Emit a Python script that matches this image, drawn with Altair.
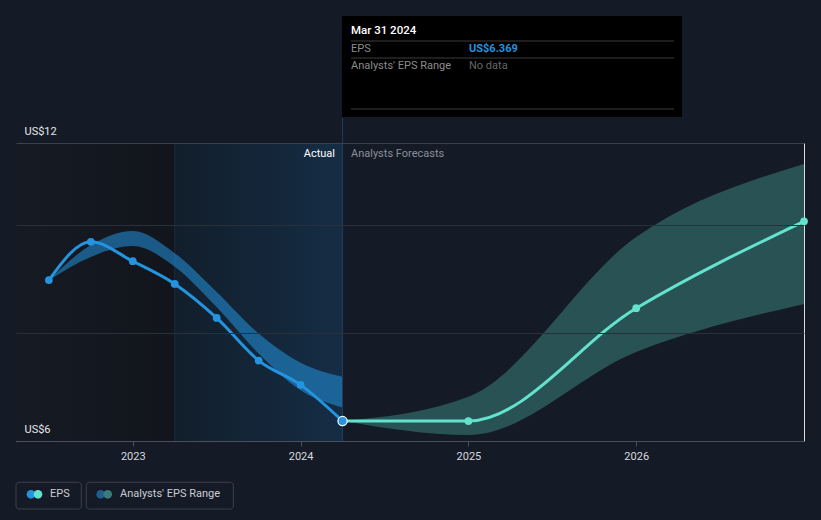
import altair as alt
import pandas as pd

# ---- data ----
eps_x = [2022.5, 2022.75, 2023.0, 2023.25, 2023.5, 2023.75, 2024.0, 2024.25]
eps_y = [8.98, 9.69, 9.33, 8.91, 8.28, 7.49, 7.04, 6.369]
past_low = [8.98, 9.41, 9.61, 9.23, 8.48, 7.62, 6.94, 6.62]
past_high = [8.98, 9.63, 9.89, 9.48, 8.76, 7.99, 7.45, 7.19]

fc_x = [2024.25, 2025.0, 2026.0, 2027.0]
fc_y = [6.369, 6.37, 8.46, 10.07]
fc_low = [6.369, 6.11, 7.65, 8.54]
fc_high = [6.369, 6.82, 9.78, 11.13]

x_domain = [2022.304, 2027.0]
y_domain = [6, 11.52]
y_ticks = [6, 8, 10, 11.52]
x_ticks = [2023, 2024, 2025, 2026]
dark_region = [2022.304, 2023.25]
past_region = [2023.25, 2024.25]
now_x = 2024.25

BG = "#151b26"
BLUE = "#2394df"
TEAL = "#64e2cc"
FONT = "Roboto"
W, H = 788, 298

eps_df = pd.DataFrame({"x": eps_x, "y": eps_y, "lo": past_low, "hi": past_high})
fc_df = pd.DataFrame({"x": fc_x, "y": fc_y, "lo": fc_low, "hi": fc_high})
one = pd.DataFrame({"d": [0]})

xs = alt.Scale(domain=x_domain, nice=False, zero=False)
ys = alt.Scale(domain=y_domain, nice=False, zero=False)

X = alt.X("x:Q", scale=xs, axis=alt.Axis(
    values=x_ticks, format="d", title=None, grid=False, zindex=1,
    labelColor="#d6d9de", labelFontSize=11, labelFont=FONT, labelPadding=4,
    tickColor="#4a505b", tickSize=5, domainColor="#4a505b"))
Y = alt.Y("y:Q", scale=ys, axis=alt.Axis(
    values=y_ticks, title=None, domain=False, ticks=False, zindex=1,
    grid=True,
    gridColor={"condition": {"test": "datum.value > 11", "value": "#3a414d"}, "value": "#283039"},
    labelExpr="datum.value == 6 ? 'US$6' : (datum.value > 11 ? 'US$12' : '')",
    labelAlign="left", labelPadding=-8, labelBaseline="middle", labelOffset=-12,
    labelColor="#e6e8eb", labelFontSize=11, labelFont=FONT))

# background regions
reg_df = pd.DataFrame({"x": [dark_region[0], past_region[0]], "x2": [dark_region[1], past_region[1]], "k": ["dark", "past"]})
dark = alt.Chart(reg_df[reg_df.k == "dark"]).mark_rect(
    color=alt.LinearGradient(gradient="linear", x1=0, x2=1, y1=0, y2=0,
                             stops=[alt.GradientStop(color="#161a23", offset=0),
                                    alt.GradientStop(color="#12151c", offset=1)])
).encode(x=alt.X("x:Q", scale=xs), x2="x2:Q", y=alt.value(0), y2=alt.value(H))
past = alt.Chart(reg_df[reg_df.k == "past"]).mark_rect(
    color=alt.LinearGradient(gradient="linear", x1=0, x2=1, y1=0, y2=0,
                             stops=[alt.GradientStop(color="#121e2b", offset=0),
                                    alt.GradientStop(color="#152d45", offset=1)])
).encode(x=alt.X("x:Q", scale=xs), x2="x2:Q", y=alt.value(0), y2=alt.value(H))
past_edge = alt.Chart(reg_df[reg_df.k == "past"]).mark_rule(color="#1a2c40", strokeWidth=1).encode(
    x=alt.X("x:Q", scale=xs), y=alt.value(0), y2=alt.value(H))

axes = alt.Chart(eps_df).mark_point(opacity=0).encode(x=X, y=Y)

past_band = alt.Chart(eps_df).mark_area(interpolate="monotone", color=BLUE, opacity=0.55).encode(
    x=alt.X("x:Q", scale=xs), y=alt.Y("lo:Q", scale=ys), y2="hi:Q")
fc_band = alt.Chart(fc_df).mark_area(interpolate="monotone", color="#58d3c0", opacity=0.3).encode(
    x=alt.X("x:Q", scale=xs), y=alt.Y("lo:Q", scale=ys), y2="hi:Q")

now_rule = alt.Chart(one).mark_rule(color="#1f3d5a", strokeWidth=1).encode(
    x=alt.datum(now_x, scale=xs), y=alt.value(-25), y2=alt.value(H))

eps_line = alt.Chart(eps_df).mark_line(interpolate="monotone", color=BLUE, strokeWidth=3).encode(
    x=alt.X("x:Q", scale=xs), y=alt.Y("y:Q", scale=ys))
eps_pts = alt.Chart(eps_df.iloc[:-1]).mark_circle(color=BLUE, size=60, opacity=1).encode(
    x=alt.X("x:Q", scale=xs), y=alt.Y("y:Q", scale=ys))
fc_line = alt.Chart(fc_df).mark_line(interpolate="monotone", color=TEAL, strokeWidth=3).encode(
    x=alt.X("x:Q", scale=xs), y=alt.Y("y:Q", scale=ys))
fc_pts = alt.Chart(fc_df.iloc[1:]).mark_circle(color=TEAL, size=60, opacity=1).encode(
    x=alt.X("x:Q", scale=xs), y=alt.Y("y:Q", scale=ys))
last_pt = alt.Chart(eps_df.iloc[-1:]).mark_point(filled=True, color=BLUE, size=85, stroke="white",
                                                  strokeWidth=1.2, opacity=1).encode(
    x=alt.X("x:Q", scale=xs), y=alt.Y("y:Q", scale=ys))

def txt(s, x, y, color, size=11, align="left", weight="normal"):
    return alt.Chart(one).mark_text(text=s, align=align, baseline="middle", font=FONT,
                                    fontSize=size, color=color, fontWeight=weight).encode(
        x=alt.value(x), y=alt.value(y))

lbl_actual = txt("Actual", 319, 11, "#ffffff", align="right")
lbl_fc = txt("Analysts Forecasts", 335, 11, "#8a8f98")

# tooltip box
tip_box = alt.Chart(one).mark_rect(color="#000000").encode(
    x=alt.value(326), x2=alt.value(666), y=alt.value(-127), y2=alt.value(-26))
tip_lines = alt.Chart(pd.DataFrame({"yy": [-102, -85, -34]})).mark_rule(color="#3c3c3c").encode(
    x=alt.value(335), x2=alt.value(658), y=alt.Y("yy:Q", scale=None))
tip_t1 = txt("Mar 31 2024", 335, -112, "#ffffff", size=11.5, weight=500)
tip_t2 = txt("EPS", 335, -94, "#8c8c8c")
tip_t3 = txt("US$6.369", 453, -94, BLUE, weight="bold")
tip_t4 = txt("Analysts' EPS Range", 335, -77, "#8c8c8c")
tip_t5 = txt("No data", 453, -77, "#666666")

# legend
leg_boxes = alt.Chart(pd.DataFrame({"a": [0, 70.3], "b": [65.3, 217.3]})).mark_rect(
    fill=BG, stroke="#3b404a", strokeWidth=1, cornerRadius=3).encode(
    x=alt.X("a:Q", scale=None), x2="b:Q", y=alt.value(339.3), y2=alt.value(366))
def dot(x, color):
    return alt.Chart(one).mark_circle(color=color, size=75, opacity=1).encode(
        x=alt.value(x), y=alt.value(351.3))
leg = [dot(15, BLUE), dot(22, TEAL), txt("EPS", 34, 351.3, "#c9ccd1"),
       dot(84.7, "#1f5f8f"), dot(91.7, "#3a7a78"), txt("Analysts' EPS Range", 104, 351.3, "#c9ccd1")]

chart = alt.layer(
    dark, past, past_edge, axes, past_band, fc_band, now_rule,
    eps_line, fc_line, eps_pts, fc_pts, last_pt,
    lbl_actual, lbl_fc,
    tip_box, tip_lines, tip_t1, tip_t2, tip_t3, tip_t4, tip_t5,
    leg_boxes, *leg
).properties(
    width=W, height=H,
    background=BG,
    padding={"left": 16, "top": 143, "right": 17, "bottom": 79},
    autosize=alt.AutoSizeParams(type="none"),
).configure_view(stroke=None).configure(font=FONT)

chart.save("out.html", embed_options={"renderer": "svg", "actions": False})
